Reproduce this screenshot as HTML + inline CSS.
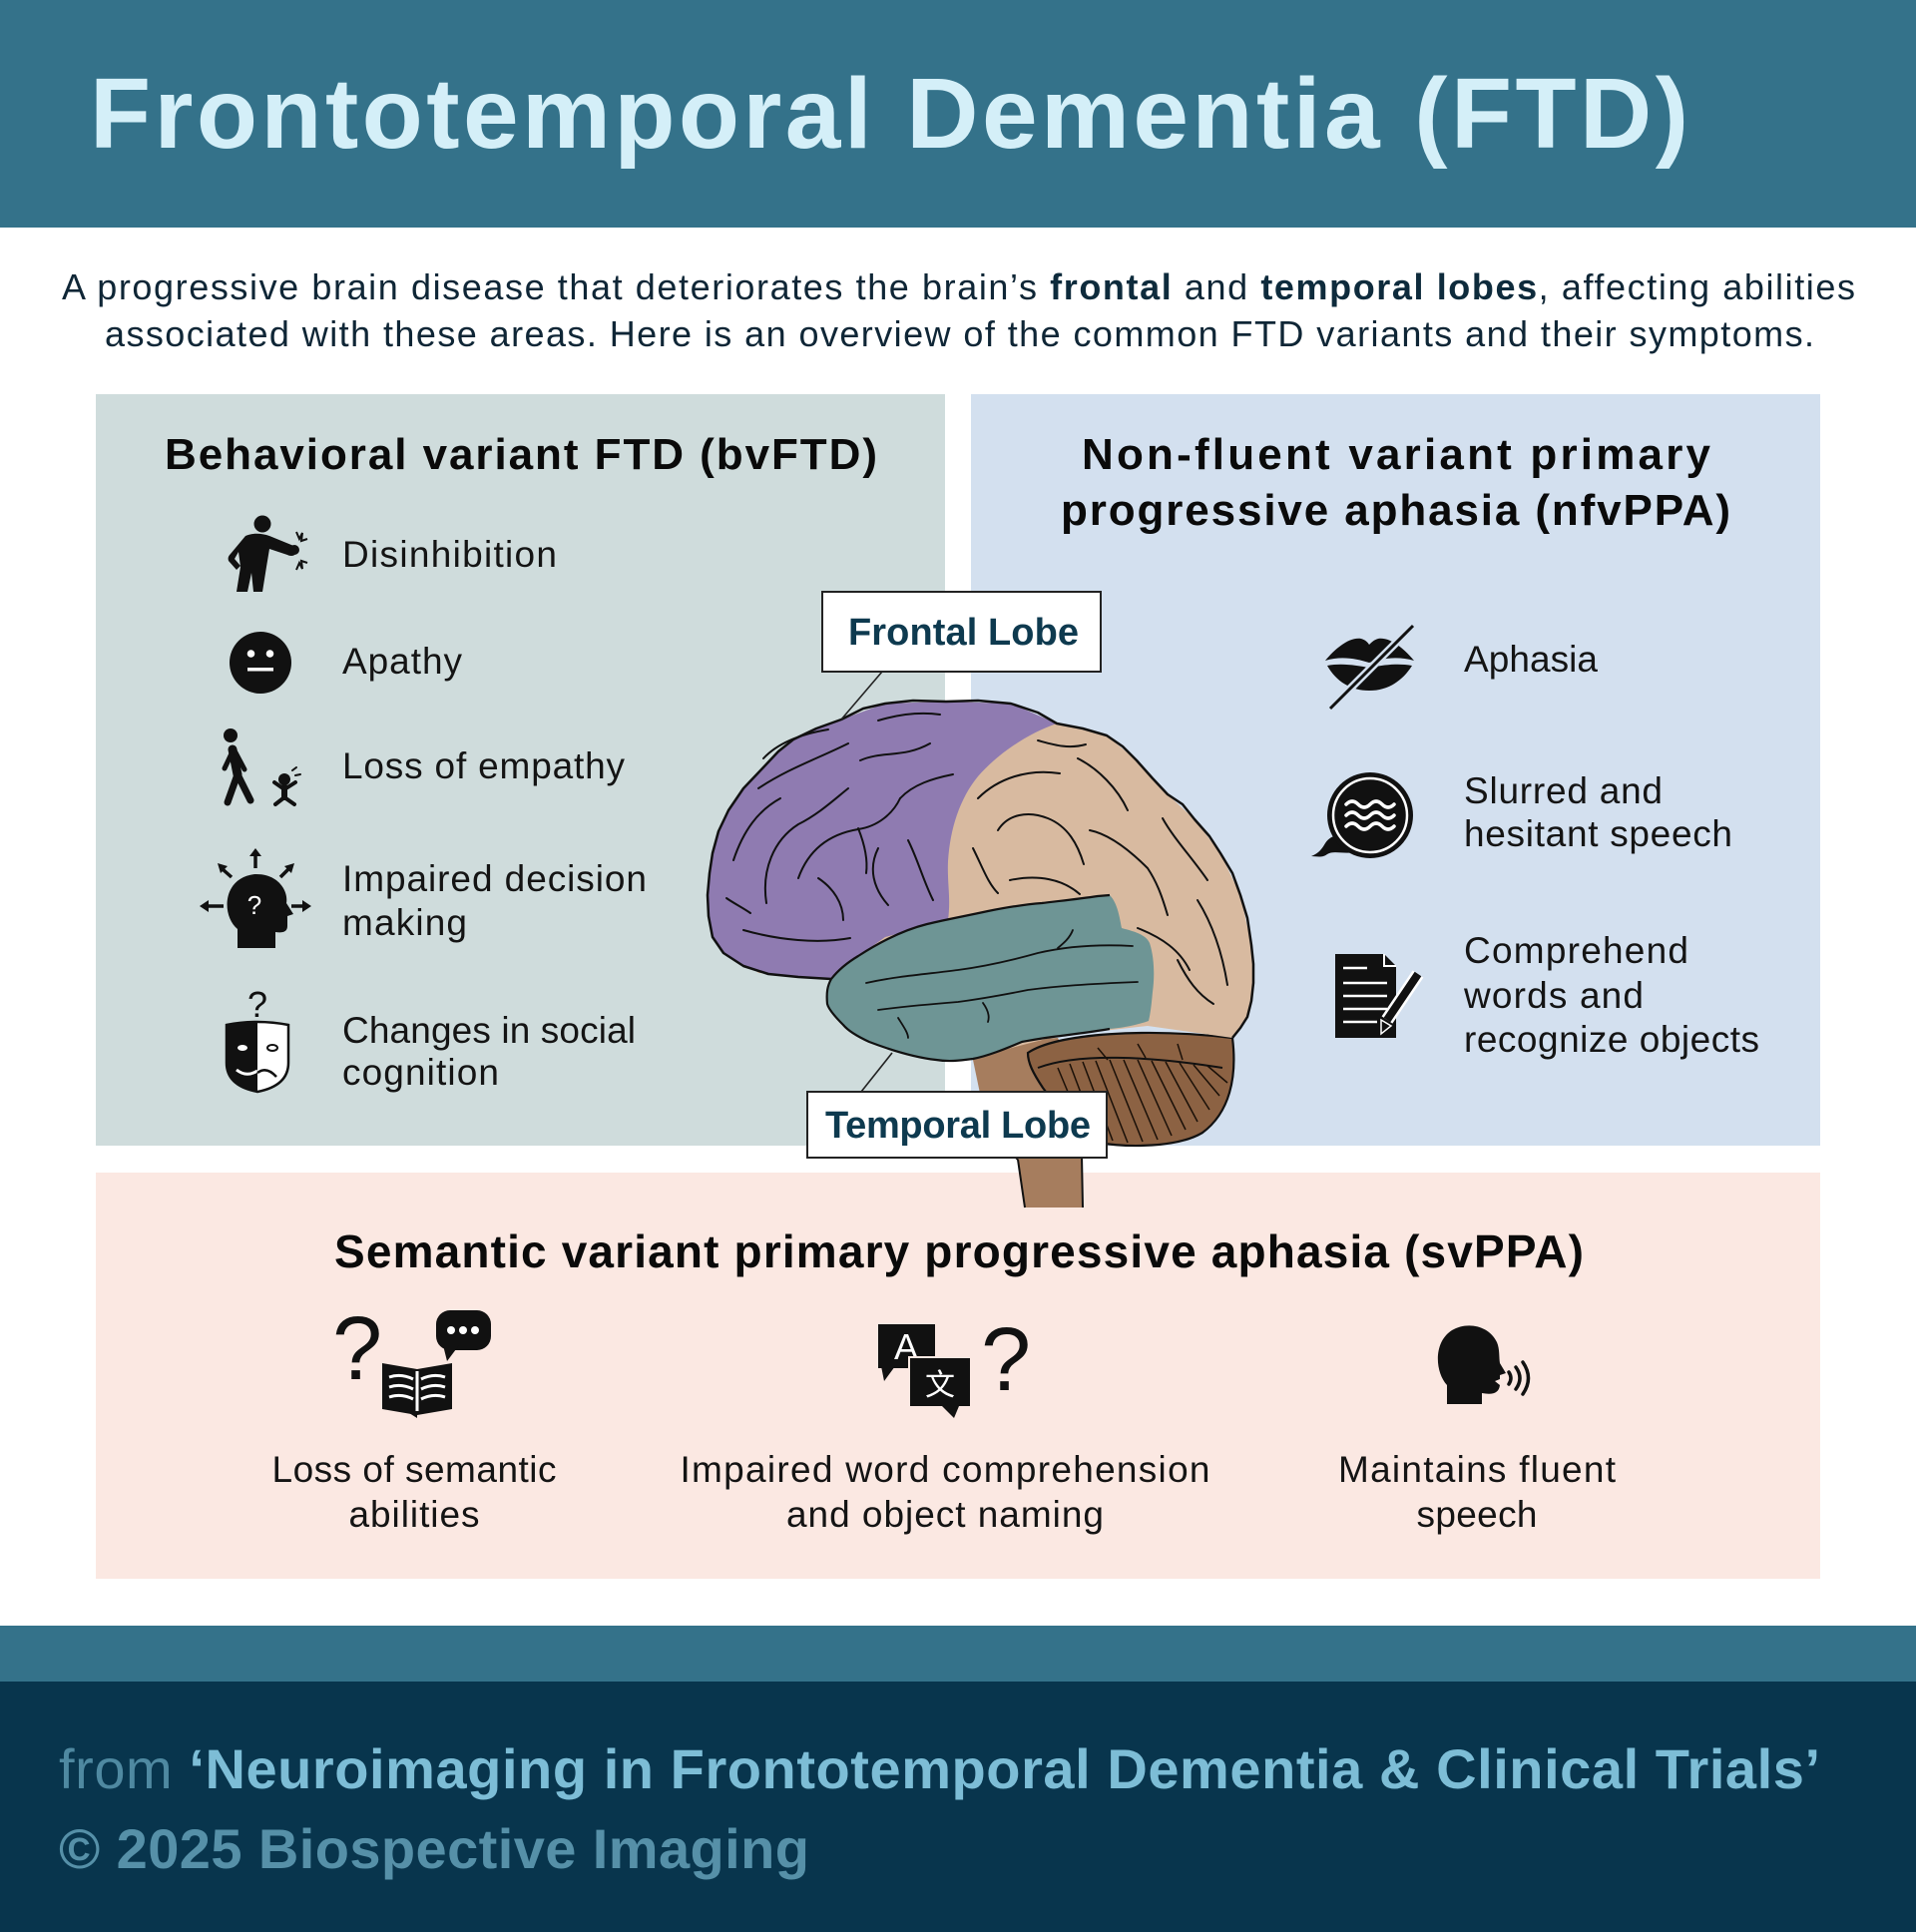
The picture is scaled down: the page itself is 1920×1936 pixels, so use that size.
<!DOCTYPE html>
<html>
<head>
<meta charset="utf-8">
<style>
html,body{margin:0;padding:0;background:#fff;}
svg{display:block;}
text{font-family:"Liberation Sans","Noto Sans CJK SC",sans-serif;}
</style>
</head>
<body>
<svg width="1920" height="1936" viewBox="0 0 1920 1936" xmlns="http://www.w3.org/2000/svg">
<!-- background -->
<rect x="0" y="0" width="1920" height="1936" fill="#ffffff"/>
<!-- header -->
<rect x="0" y="0" width="1920" height="228" fill="#34728a"/>
<text x="90" y="148" font-size="100" font-weight="bold" fill="#d4eff8" textLength="1602">Frontotemporal Dementia (FTD)</text>

<!-- subtitle -->
<text x="62" y="300" font-size="36" fill="#0f2636" textLength="1797">A progressive brain disease that deteriorates the brain’s <tspan font-weight="bold" fill="#0e2b3c">frontal</tspan> and <tspan font-weight="bold" fill="#0e2b3c">temporal lobes</tspan>, affecting abilities</text>
<text x="105" y="347" font-size="36" fill="#0f2636" textLength="1713">associated with these areas. Here is an overview of the common FTD variants and their symptoms.</text>

<!-- panels -->
<rect x="96" y="395" width="851" height="753" fill="#cfdcdc"/>
<rect x="973" y="395" width="851" height="753" fill="#d3e0ef"/>
<rect x="96" y="1175" width="1728" height="407" fill="#fbe8e2"/>

<!-- left heading -->
<text x="165" y="470" font-size="44" font-weight="bold" fill="#0a0a0a" textLength="714">Behavioral variant FTD (bvFTD)</text>

<!-- left items -->
<g font-size="37" fill="#141414">
<text x="343" y="568" textLength="215">Disinhibition</text>
<text x="343" y="675" textLength="120">Apathy</text>
<text x="343" y="780" textLength="283">Loss of empathy</text>
<text x="343" y="893" textLength="305">Impaired decision</text>
<text x="343" y="937" textLength="125">making</text>
<text x="343" y="1045" textLength="294">Changes in social</text>
<text x="343" y="1087" textLength="157">cognition</text>
</g>

<!-- left icons -->
<!-- disinhibition -->
<g fill="#111">
<circle cx="263" cy="525" r="8.5"/>
<path d="M246,537 C252,534 262,534 270,537 L292,546 C296,547 298,551 296,555 C294,558 290,557 288,556 L270,550 L267,568 L263,593 L254,593 L252,574 L248,593 L237,593 L241,568 L239,553 L235,560 L241,567 L237,571 L229,562 C228,559 229,557 231,555 Z"/>
<circle cx="295" cy="551" r="5"/>
</g>
<path d="M297,533 l3,7 l3,-6 l-1,8 l6,-2" stroke="#111" stroke-width="2" fill="none"/>
<path d="M297,571 l3,-7 l3,6 l-1,-8 l6,2" stroke="#111" stroke-width="2" fill="none"/>
<!-- apathy -->
<circle cx="261" cy="664" r="31" fill="#111"/>
<circle cx="251.5" cy="655" r="3.8" fill="#fff"/>
<circle cx="270.5" cy="655" r="3.8" fill="#fff"/>
<rect x="248" y="669" width="26" height="3.5" fill="#fff"/>
<!-- loss of empathy -->
<g stroke="#111" stroke-linecap="round" fill="none">
<circle cx="231" cy="737" r="7" fill="#111" stroke="none"/>
<path d="M233,751 L238,776" stroke-width="9"/>
<path d="M238,776 L228,804" stroke-width="7"/>
<path d="M238,776 L251,802" stroke-width="7"/>
<path d="M233,753 L225,770" stroke-width="5"/>
<path d="M236,754 L245,771" stroke-width="5"/>
<circle cx="285" cy="781" r="6" fill="#111" stroke="none"/>
<path d="M285,788 L285,799" stroke-width="6"/>
<path d="M285,791 L275,784" stroke-width="4"/>
<path d="M285,791 L296,784" stroke-width="4"/>
<path d="M285,799 L276,806" stroke-width="4"/>
<path d="M285,799 L295,806" stroke-width="4"/>
<path d="M293,772 l4,-3 M296,777 l5,-1" stroke-width="2"/>
</g>
<!-- decision -->
<path d="M238,950 L238,931 C222,918 222,880 255,876 C280,875 289,894 287,905 L294,916 L288,918 L288,928 C288,934 283,935 276,934 L276,950 Z" fill="#111"/>
<text x="255" y="916" font-size="26" fill="#fff" text-anchor="middle">?</text>
<g stroke="#111" stroke-width="3.5" fill="#111">
<line x1="256" y1="870" x2="256" y2="857"/>
<polygon points="250,858 262,858 256,850" stroke="none"/>
<line x1="224" y1="908" x2="208" y2="908"/>
<polygon points="209,902 209,914 200,908" stroke="none"/>
<line x1="292" y1="908" x2="304" y2="908"/>
<polygon points="303,902 303,914 312,908" stroke="none"/>
<line x1="232" y1="879" x2="223" y2="871"/>
<polygon points="218,865 228,868 221,875" stroke="none"/>
<line x1="281" y1="879" x2="289" y2="871"/>
<polygon points="295,865 285,868 292,875" stroke="none"/>
</g>
<!-- mask -->
<text x="258" y="1019" font-size="36" fill="#111" text-anchor="middle">?</text>
<path d="M227,1027 Q258,1021 289,1027 L289,1065 Q289,1088 258,1094 Q227,1088 227,1065 Z" fill="#fff" stroke="#111" stroke-width="2.5"/>
<path d="M227,1027 Q242,1024 258,1023.5 L258,1094 Q227,1088 227,1065 Z" fill="#111"/>
<ellipse cx="243" cy="1050" rx="5" ry="3" fill="#fff"/>
<ellipse cx="273" cy="1050" rx="5" ry="3" fill="none" stroke="#111" stroke-width="2"/>
<path d="M237,1072 Q247,1080 258,1073" stroke="#fff" stroke-width="3" fill="none"/>
<path d="M258,1075 Q267,1068 277,1079" stroke="#111" stroke-width="2.5" fill="none"/>

<!-- right heading -->
<text x="1084" y="470" font-size="44" font-weight="bold" fill="#0a0a0a" textLength="630">Non-fluent variant primary</text>
<text x="1063" y="526" font-size="44" font-weight="bold" fill="#0a0a0a" textLength="671">progressive aphasia (nfvPPA)</text>

<!-- right items -->
<g font-size="37" fill="#141414">
<text x="1467" y="673" textLength="134">Aphasia</text>
<text x="1467" y="805" textLength="199">Slurred and</text>
<text x="1467" y="848" textLength="269">hesitant speech</text>
<text x="1467" y="965" textLength="225">Comprehend</text>
<text x="1467" y="1010" textLength="180">words and</text>
<text x="1467" y="1054" textLength="296">recognize objects</text>
</g>

<!-- right icons -->
<!-- lips -->
<path d="M1328,662 C1338,650 1352,638 1364,640 C1368,641 1371,644 1372,646 C1374,644 1377,641 1381,640 C1393,638 1407,650 1417,662 C1400,657 1385,660 1372,664 C1359,660 1344,657 1328,662 Z" fill="#111"/>
<path d="M1330,667 C1345,664 1360,667 1372,669 C1384,667 1399,664 1415,667 C1405,683 1390,692 1372,692 C1354,692 1339,683 1330,667 Z" fill="#111"/>
<line x1="1333" y1="710" x2="1416" y2="627" stroke="#d3e0ef" stroke-width="8"/>
<line x1="1333" y1="710" x2="1416" y2="627" stroke="#111" stroke-width="3"/>
<!-- speech bubble -->
<path d="M1345,838 L1357,854 C1346,856 1336,852 1330,856 C1325,860 1319,858 1314,858 C1322,855 1325,850 1328,845 C1332,839 1338,836 1345,838 Z" fill="#111"/>
<circle cx="1373" cy="817" r="43" fill="#111"/>
<circle cx="1373" cy="817" r="37" fill="none" stroke="#fff" stroke-width="2.5"/>
<g stroke="#fff" stroke-width="3.5" fill="none" stroke-linecap="round">
<path d="M1349,806 q6,-6 12,0 t12,0 t12,0 t12,0"/>
<path d="M1349,817 q6,-6 12,0 t12,0 t12,0 t12,0"/>
<path d="M1349,828 q6,-6 12,0 t12,0 t12,0 t12,0"/>
</g>
<!-- document -->
<path d="M1338,956 L1387,956 L1399,968 L1399,1040 L1338,1040 Z" fill="#111"/>
<path d="M1387,956 L1387,968 L1399,968" fill="none" stroke="#fff" stroke-width="2"/>
<g stroke="#fff" stroke-width="2.5">
<line x1="1346" y1="970" x2="1370" y2="970"/>
<line x1="1346" y1="985" x2="1390" y2="985"/>
<line x1="1346" y1="998" x2="1390" y2="998"/>
<line x1="1346" y1="1011" x2="1390" y2="1011"/>
<line x1="1346" y1="1024" x2="1380" y2="1024"/>
</g>
<line x1="1421" y1="976" x2="1390" y2="1022" stroke="#fff" stroke-width="13"/>
<line x1="1421" y1="976" x2="1390" y2="1022" stroke="#111" stroke-width="8"/>
<polygon points="1384,1022 1394,1028 1384,1036" fill="#111" stroke="#fff" stroke-width="1.5"/>

<!-- ===== BRAIN ===== -->
<!-- brainstem -->
<path d="M975,1045 L1060,1040 L1090,1100 L1084,1160 L1085,1210 L1027,1210 L1020,1162 L1005,1148 L985,1110 L975,1062 Z" fill="#a67d5e"/>
<path d="M1020,1162 L1027,1210 M1084,1158 L1085,1210 M985,1110 L1005,1148 L1020,1162" stroke="#111" stroke-width="2" fill="none"/>
<!-- cerebellum -->
<path d="M1030,1055 C1060,1035 1150,1030 1235,1040 C1240,1080 1232,1115 1205,1135 C1180,1150 1130,1150 1100,1145 C1080,1140 1060,1110 1045,1090 C1035,1075 1030,1065 1030,1055 Z" fill="#8c6243" stroke="#111" stroke-width="2.2"/>
<path d="M1040,1070 C1080,1055 1150,1058 1225,1070" stroke="#111" stroke-width="2" fill="none"/>
<g stroke="#1a1008" stroke-width="1.5" fill="none">
<path d="M1060,1070 L1085,1130"/>
<path d="M1072,1066 L1100,1140"/>
<path d="M1085,1064 L1115,1143"/>
<path d="M1098,1063 L1130,1145"/>
<path d="M1112,1062 L1145,1144"/>
<path d="M1126,1062 L1160,1142"/>
<path d="M1140,1062 L1174,1138"/>
<path d="M1154,1063 L1188,1132"/>
<path d="M1168,1064 L1200,1124"/>
<path d="M1182,1065 L1212,1112"/>
<path d="M1196,1067 L1222,1098"/>
<path d="M1210,1068 L1230,1085"/>
<path d="M1100,1050 L1110,1062"/>
<path d="M1140,1046 L1148,1060"/>
<path d="M1180,1046 L1185,1062"/>
</g>
<!-- beige cortex -->
<path d="M843,721 L887,705 L948,703 L1013,705 L1059,725 L1109,737 L1139,762 L1170,796 L1197,821 L1223,855 L1243,897 L1254,947 L1256,985 L1250,1019 L1235,1040 L1150,1028 L1060,1038 L975,1060 L900,1055 L833,981 L760,975 L714,939 L709,897 L714,855 L730,812 L764,770 L795,741 Z" fill="#d8baa0"/>
<!-- purple frontal -->
<path d="M843,721 L887,705 L948,703 L1013,705 L1059,725 C1030,735 1000,755 980,778 C962,800 952,830 950,863 C949,885 953,900 950,922 L887,939 L852,964 L833,981 L800,979 L770,976 L745,968 L725,955 L714,939 L710,918 L709,897 L711,875 L714,855 L720,833 L730,812 L745,790 L764,770 L780,753 L795,741 L818,730 Z" fill="#8f7bb1"/>
<!-- temporal -->
<path d="M833,981 C840,972 850,964 860,958 C880,945 905,932 929,926 C950,921 967,918 990,913 C1010,909 1030,906 1044,905 C1060,903 1080,901 1100,898 L1112,897 C1120,905 1122,920 1124,930 C1135,933 1148,936 1152,945 C1157,960 1157,980 1155,994 C1154,1005 1153,1015 1151,1023 C1140,1027 1125,1030 1112,1031 C1095,1034 1078,1036 1063,1038 C1045,1040 1035,1042 1024,1044 C1005,1052 990,1058 975,1061 C960,1063 950,1064 938,1062 C920,1060 900,1055 871,1044 C858,1038 850,1033 845,1027 C836,1018 830,1010 829,1006 C828,995 829,988 833,981 Z" fill="#6e9595"/>
<path d="M833,981 C840,972 850,964 860,958 C880,945 905,932 929,926 C950,921 967,918 990,913 C1010,909 1030,906 1044,905 C1060,903 1080,901 1100,898 L1112,897" stroke="#111" stroke-width="2.2" fill="none"/>
<path d="M833,981 C829,988 828,995 829,1006 C830,1010 836,1018 845,1027 C850,1033 858,1038 871,1044 C900,1055 920,1060 938,1062 C950,1064 960,1063 975,1061 C990,1058 1005,1052 1024,1044 C1035,1042 1045,1040 1063,1038 C1078,1036 1095,1034 1112,1031" stroke="#111" stroke-width="2.2" fill="none"/>
<g stroke="#111" stroke-width="1.8" fill="none" stroke-linecap="round">
<path d="M868,985 C900,978 930,976 960,972 C990,968 1015,962 1040,955 C1070,948 1100,946 1135,948"/>
<path d="M880,1012 C910,1008 935,1006 960,1004 C990,1000 1010,996 1030,992 C1060,988 1090,986 1140,984"/>
<path d="M985,1005 C990,1012 992,1018 990,1024"/>
<path d="M1060,950 C1066,945 1072,940 1075,932"/>
<path d="M900,1020 C905,1028 910,1035 910,1040"/>
</g>
<!-- sulci frontal -->
<g stroke="#111" stroke-width="2" fill="none" stroke-linecap="round">
<path d="M760,790 C790,770 820,760 850,745"/>
<path d="M735,862 C745,832 760,812 782,800"/>
<path d="M768,905 C763,872 775,842 800,826 C820,816 835,802 850,790"/>
<path d="M862,762 C885,752 905,760 932,745"/>
<path d="M800,880 C810,852 830,836 860,831 C880,828 895,815 902,800"/>
<path d="M880,850 C870,870 875,890 890,907"/>
<path d="M745,932 C780,942 820,946 852,940"/>
<path d="M902,800 C915,786 935,780 955,776"/>
<path d="M820,880 C835,890 845,905 845,922"/>
<path d="M910,842 C920,862 925,882 935,902"/>
<path d="M765,760 C778,746 800,736 830,731"/>
<path d="M880,722 C900,716 920,713 942,716"/>
<path d="M860,830 C866,845 870,860 868,875"/>
<path d="M728,900 C735,905 745,910 752,915"/>
</g>
<!-- sulci beige -->
<g stroke="#111" stroke-width="2" fill="none" stroke-linecap="round">
<path d="M980,800 C1000,780 1030,770 1062,775"/>
<path d="M1000,832 C1010,816 1030,812 1050,820 C1070,828 1080,846 1086,866"/>
<path d="M1080,760 C1100,770 1120,790 1130,812"/>
<path d="M1092,832 C1112,836 1132,852 1150,870 C1160,885 1165,900 1170,917"/>
<path d="M1165,820 C1176,840 1195,860 1210,882"/>
<path d="M1200,902 C1215,926 1225,956 1230,987"/>
<path d="M1180,962 C1190,982 1200,996 1216,1006"/>
<path d="M1012,882 C1040,876 1065,881 1082,896"/>
<path d="M1040,742 C1055,746 1070,751 1088,746"/>
<path d="M1140,930 C1165,940 1182,952 1192,972"/>
<path d="M975,850 C985,870 990,885 1000,895"/>
</g>
<!-- outer contour -->
<path d="M833,981 L800,979 L770,976 L745,968 L725,955 L714,939 L710,918 L709,897 L711,875 L714,855 L720,833 L730,812 L745,790 L764,770 L780,753 L795,741 L818,730 L843,721 L865,710 L887,705 L915,702 L948,703 L980,702 L1013,705 L1040,714 L1059,725 L1085,730 L1109,737 L1125,748 L1139,762 L1155,780 L1170,796 L1185,806 L1197,821 L1212,838 L1223,855 L1235,875 L1243,897 L1250,920 L1254,947 L1256,966 L1256,985 L1254,1003 L1250,1019 L1243,1030 L1235,1040" stroke="#111" stroke-width="2.5" fill="none" stroke-linejoin="round"/>

<!-- leader lines -->
<line x1="884" y1="673" x2="843" y2="721" stroke="#222" stroke-width="1.6"/>
<line x1="863" y1="1094" x2="894" y2="1055" stroke="#222" stroke-width="1.6"/>

<!-- lobe labels -->
<rect x="824" y="593" width="279" height="80" fill="#fff" stroke="#222" stroke-width="2"/>
<text x="965.5" y="646" font-size="38" font-weight="bold" fill="#0e3a4f" text-anchor="middle" textLength="231">Frontal Lobe</text>
<rect x="809" y="1094" width="300" height="66" fill="#fff" stroke="#222" stroke-width="2"/>
<text x="960" y="1140" font-size="38" font-weight="bold" fill="#0e3a4f" text-anchor="middle" textLength="266">Temporal Lobe</text>

<!-- bottom heading -->
<text x="335" y="1270" font-size="46" font-weight="bold" fill="#0a0a0a" textLength="1252">Semantic variant primary progressive aphasia (svPPA)</text>

<!-- bottom icons col1 -->
<text x="358" y="1382" font-size="90" fill="#111" text-anchor="middle">?</text>
<path d="M383,1366 L418,1372 L453,1366 L453,1412 L418,1418 L383,1412 Z" fill="#111"/>
<path d="M418,1412 L418,1421 L410,1416 Z" fill="#111"/>
<g stroke="#fff" stroke-width="3" fill="none">
<line x1="418" y1="1374" x2="418" y2="1414"/>
<path d="M390,1380 q12,-4 24,2"/><path d="M446,1380 q-12,-4 -24,2"/>
<path d="M390,1390 q12,-4 24,2"/><path d="M446,1390 q-12,-4 -24,2"/>
<path d="M390,1400 q12,-4 24,2"/><path d="M446,1400 q-12,-4 -24,2"/>
</g>
<rect x="437" y="1313" width="55" height="40" rx="14" fill="#111"/>
<polygon points="444,1348 460,1348 448,1364" fill="#111"/>
<circle cx="452" cy="1333" r="4" fill="#fff"/>
<circle cx="464" cy="1333" r="4" fill="#fff"/>
<circle cx="476" cy="1333" r="4" fill="#fff"/>

<!-- col2 -->
<rect x="880" y="1327" width="57" height="44" fill="#111"/>
<polygon points="883,1369 897,1369 886,1384" fill="#111"/>
<text x="908" y="1362" font-size="36" fill="#fff" text-anchor="middle">A</text>
<rect x="911" y="1360" width="62" height="50" fill="#111" stroke="#fbe8e2" stroke-width="2"/>
<polygon points="944,1409 961,1409 956,1421" fill="#111"/>
<text x="942" y="1398" font-size="30" fill="#fff" text-anchor="middle" font-family="'Noto Sans CJK SC',sans-serif">文</text>
<text x="1008" y="1393" font-size="90" fill="#111" text-anchor="middle">?</text>

<!-- col3 -->
<path d="M1450,1407 L1450,1388 C1438,1375 1436,1345 1455,1333 C1470,1324 1492,1328 1500,1345 C1503,1352 1502,1360 1503,1366 L1509,1376 L1503,1378 L1503,1382 L1498,1384 L1503,1388 C1502,1396 1496,1398 1485,1396 L1485,1407 Z" fill="#111"/>
<g stroke="#111" stroke-width="3.5" fill="none" stroke-linecap="round">
<path d="M1512,1375 q4,6 0,12"/>
<path d="M1519,1370 q8,11 0,22"/>
<path d="M1526,1365 q11,16 0,32"/>
</g>

<!-- bottom texts -->
<g font-size="37" fill="#141414" text-anchor="middle">
<text x="415" y="1485" textLength="285">Loss of semantic</text>
<text x="415" y="1530" textLength="131">abilities</text>
<text x="947" y="1485" textLength="531">Impaired word comprehension</text>
<text x="947" y="1530" textLength="318">and object naming</text>
<text x="1480" y="1485" textLength="278">Maintains fluent</text>
<text x="1480" y="1530" textLength="121">speech</text>
</g>

<!-- footer -->
<rect x="0" y="1629" width="1920" height="56" fill="#34728a"/>
<rect x="0" y="1685" width="1920" height="251" fill="#08354d"/>
<text x="59" y="1792" font-size="56" fill="#4f89a1" textLength="1765">from <tspan font-weight="bold" fill="#7dbdd6">‘Neuroimaging in Frontotemporal Dementia &amp; Clinical Trials’</tspan></text>
<text x="59" y="1872" font-size="56" font-weight="bold" fill="#5690a8" textLength="752">© 2025 Biospective Imaging</text>
</svg>
</body>
</html>
